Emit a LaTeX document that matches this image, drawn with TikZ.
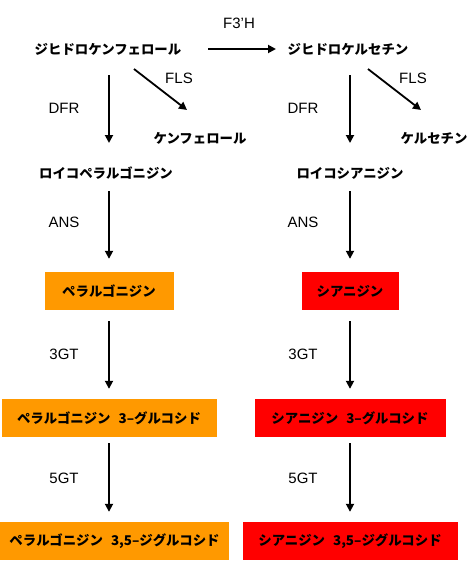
\documentclass[tikz,border=0pt]{standalone}
\usepackage{fontspec}
\setmainfont{Liberation Sans}
\newfontfamily\jpfont{Noto Sans CJK JP}
\usepackage{xcolor}
\usetikzlibrary{arrows.meta,calc}
\definecolor{pelorange}{RGB}{255,153,0}
\definecolor{cyared}{RGB}{255,0,0}

\begin{document}
\begin{tikzpicture}[x=1pt, y=-1pt,
    cmpd/.style={font=\jpfont\bfseries\fontsize{13.4}{16}\selectfont, inner sep=0pt},
    enz/.style={font=\fontsize{15}{18}\selectfont, inner sep=0pt},
    pelbox/.style={cmpd, fill=pelorange, minimum height=38pt},
    cyabox/.style={cmpd, fill=cyared, minimum height=38pt},
    arr/.style={-{Triangle[length=8pt,width=8pt]}, line width=1.8pt}]
    \useasboundingbox (0,0) rectangle (470,568);
    % ---- pelargonidin branch
    \node[cmpd] (dhk) at (108,49) {ジヒドロケンフェロール};
    \node[cmpd] (kf) at (200,138) {ケンフェロール};
    \node[cmpd] (lp) at (106,173) {ロイコペラルゴニジン};
    \node[pelbox, minimum width=129pt] (pg) at (109,291) {ペラルゴニジン};
    \node[pelbox, minimum width=215pt] (pg3) at (109,418) {ペラルゴニジン\hspace{0.6em}3–グルコシド};
    \node[pelbox, minimum width=229pt] (pg35) at (114.5,541) {ペラルゴニジン\hspace{0.6em}3,5–ジグルコシド};
    \node[enz] (flsl) at (179,78) {FLS};
    \node[enz] (dfrl) at (64,108) {DFR};
    \node[enz] (ansl) at (64,222) {ANS};
    \node[enz] (gtthl) at (64,354) {3GT};
    \node[enz] (gtfil) at (64,478) {5GT};
    % ---- cyanidin branch
    \node[cmpd] (dhq) at (348,49) {ジヒドロケルセチン};
    \node[cmpd] (qc) at (434,138) {ケルセチン};
    \node[cmpd] (lc) at (350,173) {ロイコシアニジン};
    \node[cyabox, minimum width=97pt] (cy) at (350,291) {シアニジン};
    \node[cyabox, minimum width=191pt] (cy3) at (350,418) {シアニジン\hspace{0.6em}3–グルコシド};
    \node[cyabox, minimum width=215pt] (cy35) at (350,541) {シアニジン\hspace{0.6em}3,5–ジグルコシド};
    \node[enz] (flsr) at (413,78) {FLS};
    \node[enz] (dfrr) at (303,108) {DFR};
    \node[enz] (ansr) at (303,222) {ANS};
    \node[enz] (gtthr) at (303,354) {3GT};
    \node[enz] (gtfir) at (303,478) {5GT};
    \node[enz] (fth) at (239,23) {F3’H};
    % ---- arrows
    \draw[arr] ($(dhk)+(100,0)$) -- ($(dhq)+(-72,0)$);
    \draw[arr] ($(dhk)+(1,26)$) -- ($(lp)+(3,-30)$);
    \draw[arr] ($(dhk)+(26,20)$) -- ($(kf)+(-13,-28)$);
    \draw[arr] ($(lp)+(3,18)$) -- ($(pg.north)+(0,-13)$);
    \draw[arr] ($(dhq)+(2,26)$) -- ($(lc)+(0,-30)$);
    \draw[arr] ($(dhq)+(20,20)$) -- ($(qc)+(-13,-28)$);
    \draw[arr] ($(lc)+(0,18)$) -- ($(cy.north)+(0,-13)$);
    \foreach \u/\v/\s in {pg/pg3/11,pg3/pg35/6,cy/cy3/11,cy3/cy35/6}
      { \draw[arr, shorten <=\s pt, shorten >=10pt] (\u.south) -- (\u.south |- \v.north); }
  \end{tikzpicture}
\end{document}
